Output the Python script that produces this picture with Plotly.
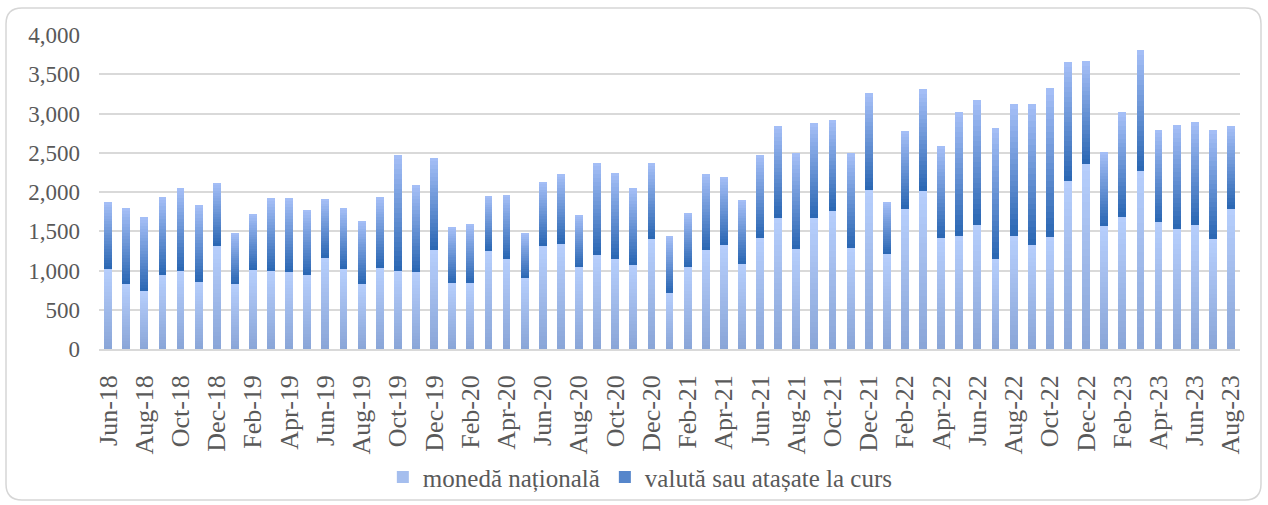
import plotly.graph_objects as go

months = ["Jun-18","Jul-18","Aug-18","Sep-18","Oct-18","Nov-18","Dec-18",
          "Jan-19","Feb-19","Mar-19","Apr-19","May-19","Jun-19","Jul-19","Aug-19","Sep-19","Oct-19","Nov-19","Dec-19",
          "Jan-20","Feb-20","Mar-20","Apr-20","May-20","Jun-20","Jul-20","Aug-20","Sep-20","Oct-20","Nov-20","Dec-20",
          "Jan-21","Feb-21","Mar-21","Apr-21","May-21","Jun-21","Jul-21","Aug-21","Sep-21","Oct-21","Nov-21","Dec-21",
          "Jan-22","Feb-22","Mar-22","Apr-22","May-22","Jun-22","Jul-22","Aug-22","Sep-22","Oct-22","Nov-22","Dec-22",
          "Jan-23","Feb-23","Mar-23","Apr-23","May-23","Jun-23","Jul-23","Aug-23"]

totals = [1876,1800,1685,1940,2055,1838,2119,
          1481,1723,1928,1928,1774,1915,1800,1634,1940,2476,2093,2438,
          1557,1596,1953,1966,1481,2132,2234,1711,2374,2247,2055,2374,
          1442,1736,2234,2196,1902,2476,2847,2502,2885,2923,2502,3255,
          1876,2783,3306,2591,3025,3178,2821,3127,3127,3319,3651,3664,
          2515,3013,3804,2796,2859,2898,2796,2847]

moneda_nationala = [1021,830,740,945,996,855,1315,
                    830,1008,996,983,945,1162,1021,830,1034,996,983,1264,
                    842,842,1251,1149,906,1315,1340,1046,1200,1149,1072,1404,
                    715,1046,1264,1328,1085,1417,1672,1277,1672,1762,1289,2030,
                    1213,1787,2017,1417,1442,1583,1149,1442,1328,1430,2145,2362,
                    1570,1685,2272,1621,1532,1583,1404,1787]

valuta = [t - m for t, m in zip(totals, moneda_nationala)]

tick_labels = months[::2]

N = 24

def lerp(c1, c2, t):
    return "rgb({},{},{})".format(*[round(a + (b - a) * t) for a, b in zip(c1, c2)])

fig = go.Figure()

series = [
    ("monedă națională", moneda_nationala, (138, 166, 216), (182, 206, 252), 14),
    ("valută sau atașate la curs", valuta, (44, 104, 180), (164, 190, 246), 8),
]
for name, vals, c_bot, c_top, leg_k in series:
    for k in range(N):
        fig.add_trace(go.Bar(
            x=months,
            y=[v / N for v in vals],
            name=name,
            legendgroup=name,
            showlegend=(k == leg_k),
            marker=dict(color=lerp(c_bot, c_top, k / (N - 1)), line=dict(width=0)),
            hoverinfo="skip",
        ))

# rounded frame around the chart (pixel geometry -> paper coords)
L, R, T, B = 99, 1240, 35, 349
def px(x):
    return (x - L) / (R - L)
def py(y):
    return (B - y) / (B - T)
x0, x1, y0, y1, r = 6, 1261, 8, 500, 16
path = (f"M {px(x0+r)} {py(y0)} L {px(x1-r)} {py(y0)} Q {px(x1)} {py(y0)} {px(x1)} {py(y0+r)} "
        f"L {px(x1)} {py(y1-r)} Q {px(x1)} {py(y1)} {px(x1-r)} {py(y1)} "
        f"L {px(x0+r)} {py(y1)} Q {px(x0)} {py(y1)} {px(x0)} {py(y1-r)} "
        f"L {px(x0)} {py(y0+r)} Q {px(x0)} {py(y0)} {px(x0+r)} {py(y0)} Z")

fig.update_layout(
    width=1268, height=505,
    barmode="stack",
    bargap=0.57,
    plot_bgcolor="white",
    paper_bgcolor="white",
    margin=dict(l=L, r=1268 - R, t=T, b=505 - B, autoexpand=False),
    font=dict(family="Liberation Serif, Times New Roman, serif", color="#595959", size=22),
    shapes=[dict(type="path", path=path, xref="paper", yref="paper",
                 line=dict(color="#D6D6D6", width=1.5), fillcolor="rgba(0,0,0,0)", layer="below")],
    legend=dict(orientation="h", xref="container", yref="container", x=0.505, y=0.055,
                xanchor="center", yanchor="middle", font=dict(size=25, color="#595959"),
                traceorder="normal", itemwidth=30, bgcolor="rgba(0,0,0,0)"),
    xaxis=dict(
        type="category", automargin=False,
        tickmode="array", tickvals=tick_labels, ticktext=tick_labels,
        tickangle=-90, tickfont=dict(size=26, color="#595959"),
        showgrid=False, showline=True, linecolor="#D9D9D9", linewidth=1.5,
        ticks="", ticklabelstandoff=14,
    ),
    yaxis=dict(
        range=[0, 4000], tickvals=[0, 500, 1000, 1500, 2000, 2500, 3000, 3500, 4000],
        tickformat=",d", showgrid=True, gridcolor="#D9D9D9", gridwidth=1.5, automargin=False,
        zeroline=False, showline=False, ticks="", ticklabelstandoff=18,
        tickfont=dict(size=23, color="#595959"),
    ),
)

fig.write_html("out.html", config={"displayModeBar": False},
               post_script="document.body.style.margin='0';document.body.style.padding='0';")
